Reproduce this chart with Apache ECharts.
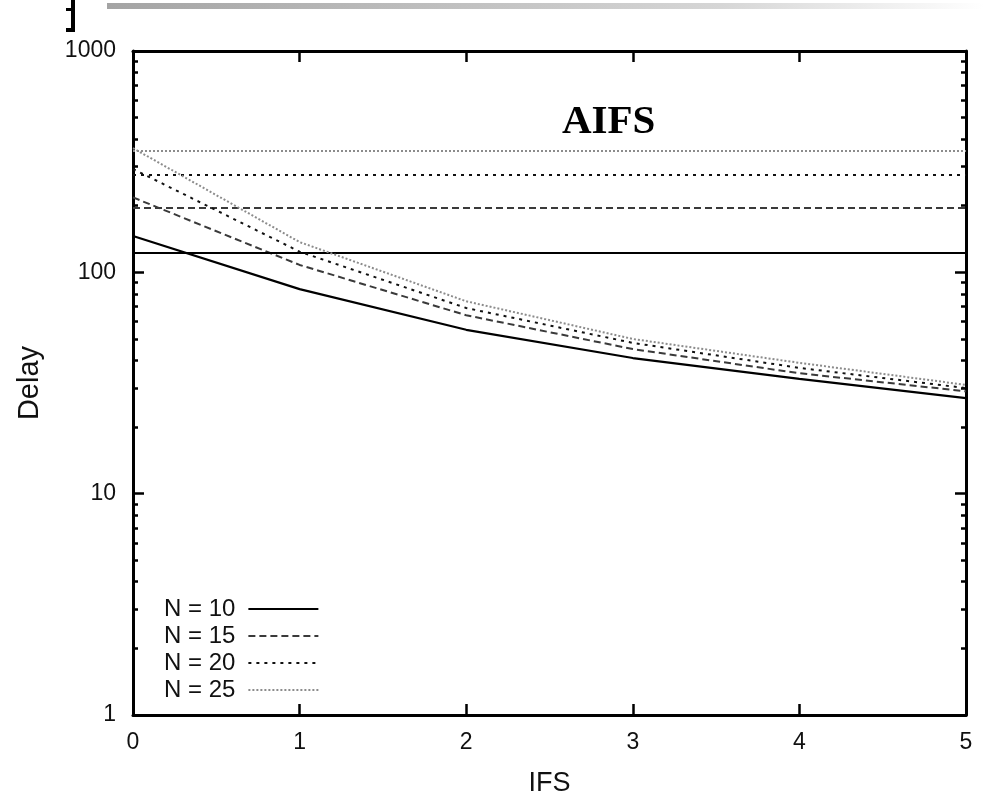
<!DOCTYPE html>
<html>
<head>
<meta charset="utf-8">
<title>AIFS delay</title>
<script src="https://cdn.jsdelivr.net/npm/echarts@6/dist/echarts.min.js"></script>
<style>
  html, body { margin: 0; padding: 0; background: #fff; }
  #chart { width: 984px; height: 792px; }
</style>
</head>
<body>
<div id="chart"></div>
<script>
// IFS values on the x axis
const ifsValues = [0, 1, 2, 3, 4, 5];

// Delay versus IFS for each number of stations
const delayN10 = [146, 84, 55, 41, 33, 27];
const delayN15 = [218, 108, 64, 45, 35, 29];
const delayN20 = [293, 124, 69, 48, 37, 30];
const delayN25 = [364, 137, 74, 50, 39, 31];

// Constant AIFS delay levels, one per station count
const aifsDelay = [122, 196, 275, 356];

const seriesNames = ['N = 10', 'N = 15', 'N = 20', 'N = 25'];

// Axis ticks
const xTickValues = [0, 1, 2, 3, 4, 5];
const yMajorTicks = [1, 10, 100, 1000];
const yMinorTicks = [];
for (let d = 0; d < yMajorTicks.length - 1; d++) {
  for (let k = 2; k <= 9; k++) yMinorTicks.push(k * yMajorTicks[d]);
}

const delaySets = [delayN10, delayN15, delayN20, delayN25];
const lineLooks = [
  { color: '#000000', width: 2.2, type: 'solid' },
  { color: '#3a3a3a', width: 2, type: [7, 4] },
  { color: '#111111', width: 2, type: [3, 5] },
  { color: '#8c8c8c', width: 2, type: [2, 2] }
];

const font = 'Liberation Sans, Arial, sans-serif';

const series = delaySets.map((vals, i) => ({
  name: seriesNames[i],
  type: 'line',
  data: ifsValues.map((x, j) => [x, vals[j]]),
  symbol: 'none',
  lineStyle: lineLooks[i],
  itemStyle: { color: lineLooks[i].color },
  z: 3 + i,
  markLine: {
    silent: true,
    symbol: 'none',
    label: { show: false },
    lineStyle: lineLooks[i],
    emphasis: { disabled: true },
    data: [{ yAxis: aifsDelay[i] }]
  }
}));

const axisLineStyle = { color: '#000', width: 3 };

function yAxisBase(extra) {
  return Object.assign({
    type: 'log',
    logBase: 10,
    min: 1,
    max: 1000,
    splitLine: { show: false },
    axisLabel: { show: false },
    axisLine: { show: false }
  }, extra);
}

const chart = echarts.init(document.getElementById('chart'), null, { renderer: 'canvas' });
chart.setOption({
  animation: false,
  backgroundColor: '#ffffff',
  grid: { left: 133, right: 18, top: 51, bottom: 77, containLabel: false, outerBoundsMode: 'none' },
  title: {
    text: 'AIFS',
    left: 557,
    top: 97,
    textStyle: { fontFamily: 'Liberation Serif, Times New Roman, serif', fontWeight: 'bold', fontSize: 41, color: '#000' }
  },
  legend: {
    orient: 'vertical',
    left: 159,
    top: 592,
    align: 'right',
    itemWidth: 70,
    itemHeight: 12,
    itemGap: 3,
    selectedMode: false,
    data: seriesNames,
    itemStyle: { opacity: 0, borderWidth: 0 },
    textStyle: { fontFamily: font, fontSize: 24, color: '#111', lineHeight: 24, padding: [0, 8, 0, 0] }
  },
  xAxis: [
    {
      type: 'value',
      min: 0,
      max: 5,
      interval: 1,
      position: 'bottom',
      name: 'IFS',
      nameLocation: 'middle',
      nameGap: 55,
      nameTextStyle: { fontFamily: font, fontSize: 27, color: '#111', verticalAlign: 'top' },
      axisLine: { show: true, lineStyle: axisLineStyle },
      axisTick: { show: true, inside: true, length: 11, lineStyle: { color: '#000', width: 2.5 } },
      axisLabel: { fontFamily: font, fontSize: 23, color: '#111', margin: 16, customValues: xTickValues },
      splitLine: { show: false }
    },
    {
      type: 'value',
      min: 0,
      max: 5,
      interval: 1,
      position: 'top',
      axisLine: { show: true, lineStyle: axisLineStyle },
      axisTick: { show: true, inside: true, length: 11, lineStyle: { color: '#000', width: 2.5 } },
      axisLabel: { show: false },
      splitLine: { show: false }
    }
  ],
  yAxis: [
    yAxisBase({
      position: 'left',
      name: 'Delay',
      nameLocation: 'middle',
      nameGap: 89,
      nameTextStyle: { fontFamily: font, fontSize: 29, color: '#111' },
      axisLine: { show: true, lineStyle: axisLineStyle },
      axisTick: { show: true, inside: true, length: 11, lineStyle: { color: '#000', width: 2.5 }, customValues: yMajorTicks },
      axisLabel: {
        show: true, fontFamily: font, fontSize: 23, color: '#111', margin: 17,
        customValues: yMajorTicks,
        formatter: (v) => String(Math.round(v))
      }
    }),
    yAxisBase({
      position: 'left',
      axisTick: { show: true, inside: true, length: 5, lineStyle: { color: '#000', width: 2.5 }, customValues: yMinorTicks }
    }),
    yAxisBase({
      position: 'right',
      axisLine: { show: true, lineStyle: axisLineStyle },
      axisTick: { show: true, inside: true, length: 11, lineStyle: { color: '#000', width: 2.5 }, customValues: yMajorTicks }
    }),
    yAxisBase({
      position: 'right',
      axisTick: { show: true, inside: true, length: 5, lineStyle: { color: '#000', width: 2.5 }, customValues: yMinorTicks }
    })
  ],
  graphic: [
    {
      type: 'rect',
      shape: { x: 107, y: 3, width: 877, height: 6 },
      style: {
        fill: new echarts.graphic.LinearGradient(0, 0, 1, 0, [
          { offset: 0, color: '#a4a4a4' },
          { offset: 0.7, color: '#d6d6d6' },
          { offset: 1, color: '#ffffff' }
        ])
      },
      silent: true
    },
    { type: 'rect', shape: { x: 71, y: 0, width: 4, height: 32 }, style: { fill: '#000' }, silent: true },
    { type: 'rect', shape: { x: 66, y: 8, width: 6, height: 3 }, style: { fill: '#000' }, silent: true },
    { type: 'rect', shape: { x: 66, y: 28, width: 9, height: 4 }, style: { fill: '#000' }, silent: true }
  ],
  series: series
});
</script>
</body>
</html>
